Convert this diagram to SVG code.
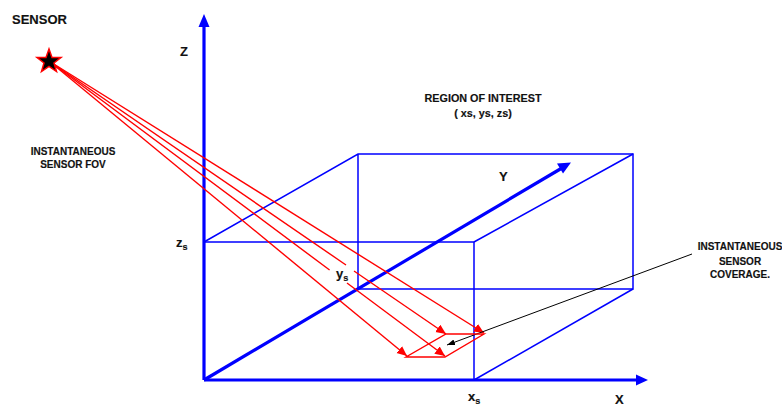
<svg xmlns="http://www.w3.org/2000/svg" width="782" height="406" viewBox="0 0 782 406">
<style>
text{font-family:"Liberation Sans",Arial,sans-serif;font-weight:bold;fill:#111;stroke:#111;stroke-width:.15}
.t{font-size:13px}.s{font-size:10.800px;text-anchor:middle}.m{font-size:10px;text-anchor:middle}
.b{fill:none;stroke:#0000ff;stroke-width:1.5}
.a{fill:none;stroke:#0000ff;stroke-width:3.2}
.r{fill:none;stroke:#ff0000;stroke-width:1.4}
</style>
<defs>
<marker id="rh" markerUnits="userSpaceOnUse" markerWidth="12" markerHeight="10" refX="10" refY="4.5" orient="auto"><path d="M0 0L10 4.5L0 9Z" fill="#ff0000"/></marker>
<marker id="kh" markerUnits="userSpaceOnUse" markerWidth="10" markerHeight="8" refX="8" refY="3" orient="auto"><path d="M0 0L8 3L0 6Z" fill="#000"/></marker>
</defs>
<g id="box">
<path class="b" d="M204 242H474V380"/>
<path class="b" d="M204 242L358 154H633V289H358V154"/>
<path class="b" d="M474 242L633 154"/>
<path class="b" d="M474 380L633 289"/>
</g>
<g id="connectors">
<g id="axes">
<path class="a" d="M204 380V26"/><path d="M204 14L209.500 27H198.500Z" fill="#0000ff"/>
<path class="a" d="M204 380H638"/><path d="M648 380L636 374.500V385.500Z" fill="#0000ff"/>
<path class="a" d="M204 380L562 168"/><path d="M571 162.500L563 173.500L557 163.500Z" fill="#0000ff"/>
</g>
<g id="rays">
<path class="r" marker-end="url(#rh)" d="M49 61L407 356"/>
<path class="r" d="M49 61L329.600 270"/>
<path class="r" marker-end="url(#rh)" d="M347 283L445 356"/>
<path class="r" d="M49 61L346 265"/>
<path class="r" marker-end="url(#rh)" d="M354 271L446 334"/>
<path class="r" marker-end="url(#rh)" d="M49 61L484 333"/>
</g>
<path d="M692 254L447 345" fill="none" stroke="#000" stroke-width="1" marker-end="url(#kh)"/>
</g>
<g id="coverage"><path class="r" d="M406 357H445L484 334H446Z"/></g>
<g id="sensor">
<path d="M49 49L52 57.500L61 57.500L54 63L56.500 71.500L49 66.500L41.500 71.500L44 63L37 57.500L46 57.500Z" fill="#000" stroke="#ff0000" stroke-width="1.5"/>
<text class="t" x="12" y="24">SENSOR</text>
</g>
<g id="labels">
<text class="t" x="180" y="56">Z</text>
<text class="t" x="499" y="181">Y</text>
<text class="t" x="615" y="404">X</text>
<text class="s" x="483" y="102">REGION OF INTEREST</text>
<text class="s" x="483" y="117">( xs, ys, zs)</text>
<text class="m" x="73" y="155">INSTANTANEOUS</text>
<text class="m" x="73" y="167.500">SENSOR FOV</text>
<text class="m" x="740" y="250">INSTANTANEOUS</text>
<text class="m" x="740" y="265">SENSOR</text>
<text class="m" x="740" y="278">COVERAGE.</text>
<text class="t" x="176" y="247">z<tspan font-size="9" dy="3">s</tspan></text>
<text class="t" x="336" y="278">y<tspan font-size="9" dy="3">s</tspan></text>
<text class="t" x="468" y="401">x<tspan font-size="9" dy="3">s</tspan></text>
</g>
</svg>
